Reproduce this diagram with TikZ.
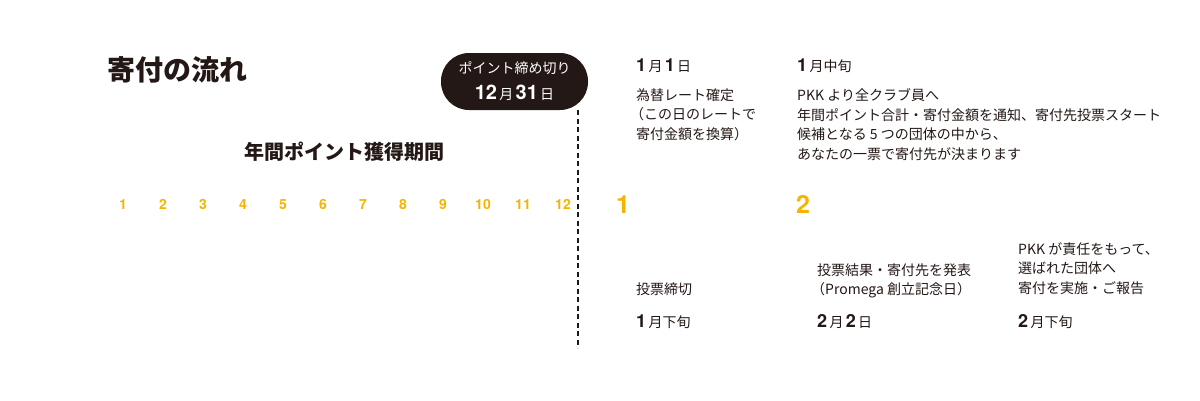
\documentclass[tikz,border=0pt]{standalone}
\usepackage{fontspec}
\setmainfont{Noto Sans CJK JP}
\newfontfamily\hv{TeX Gyre Heros}
\definecolor{ink}{HTML}{231815}
\definecolor{gold}{HTML}{F5B400}
\newcommand\dnum[1]{{\hv\bfseries\fontsize{18}{18}\selectfont #1}}
\newcommand\pnum[1]{{\hv\bfseries\fontsize{20}{20}\selectfont #1}}
\newcommand\lpar{\kern-6pt（}
\begin{document}
\begin{tikzpicture}[x=1pt,y=-1pt,
  every node/.style={inner sep=0pt, text=ink},
  bodytext/.style={anchor=north west, align=left, font=\fontsize{14}{19.5}\selectfont},
  datetext/.style={anchor=west, font=\fontsize{14}{14}\selectfont},
  monthnum/.style={anchor=base, text=gold, font=\hv\bfseries\fontsize{14}{14}\selectfont},
  bignum/.style={anchor=base, text=gold, font=\hv\bfseries\fontsize{25}{25}\selectfont},
  pill/.style={fill=ink, rounded corners=28pt, minimum width=147pt, minimum height=57pt, text=white, align=center}]
\useasboundingbox (0,0) rectangle (1200,400);
\node[anchor=west, font=\bfseries\fontsize{28}{28}\selectfont] (title) at (107,70) {寄付の流れ};
\node[pill] (deadline) at (514.5,81.5) {};
\node[text=white, font=\fontsize{14}{14}\selectfont] (dlabel) at (514.5,68) {ポイント締め切り};
\node[text=white, font=\fontsize{14}{14}\selectfont] (ddate) at (514.5,93) {\pnum{12}\,月\,\pnum{31}\,日};
\coordinate (dtop) at (578,110);
\coordinate (dbot) at (578,348);
\draw[ink, line width=2pt, dash pattern=on 5pt off 3.5pt] (dtop) -- (dbot);
\node[font=\bfseries\fontsize{20}{20}\selectfont] (period) at (344,152) {年間ポイント獲得期間};
\foreach \m in {1,...,12} {
  \node[monthnum] (m\m) at ({123+40*(\m-1)},209) {\m};
}
\node[bignum] (big1) at (623,213) {1};
\node[bignum] (big2) at (803,213) {2};
\node[datetext] (d11) at (636,66) {\dnum{1}\,月\,\dnum{1}\,日};
\node[datetext] (d1m) at (797,66) {\dnum{1}\,月中旬};
\node[bodytext] (rate) at (636,88.5) {為替レート確定\\\lpar この日のレートで\\寄付金額を換算）};
\node[bodytext] (notice) at (797,88.5) {PKK より全クラブ員へ\\年間ポイント合計・寄付金額を通知、寄付先投票スタート\\候補となる 5 つの団体の中から、\\あなたの一票で寄付先が決まります};
\node[bodytext] (close) at (636,282.5) {投票締切};
\node[datetext] (d1l) at (636,322) {\dnum{1}\,月下旬};
\node[bodytext] (result) at (817,263.5) {投票結果・寄付先を発表\\\lpar Promega 創立記念日）};
\node[datetext] (d22) at (817,322) {\dnum{2}\,月\,\dnum{2}\,日};
\node[bodytext] (donate) at (1018,242) {PKK が責任をもって、\\選ばれた団体へ\\寄付を実施・ご報告};
\node[datetext] (d2l) at (1018,322) {\dnum{2}\,月下旬};
\end{tikzpicture}
\end{document}
